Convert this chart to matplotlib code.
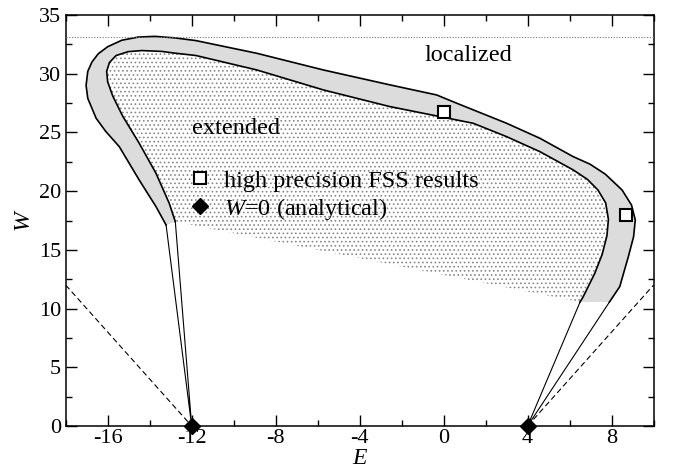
import matplotlib
matplotlib.use('Agg')
import matplotlib.pyplot as plt
from matplotlib.ticker import MultipleLocator
from matplotlib.lines import Line2D

plt.rcParams['font.family'] = ['Liberation Serif', 'DejaVu Serif']
plt.rcParams['mathtext.fontset'] = 'custom'
plt.rcParams['mathtext.rm'] = 'Liberation Serif'
plt.rcParams['mathtext.it'] = 'Liberation Serif:italic'
plt.rcParams['axes.unicode_minus'] = False
plt.rcParams['hatch.color'] = '#888888'
plt.rcParams['hatch.linewidth'] = 0.7

# outer edge of the critical band (left foot -> top -> right foot)
outer_E = [-13.22, -13.70, -14.50, -15.45, -16.10, -16.55, -16.95, -17.03, -16.95, -16.75, -16.45,
           -16.0, -15.33, -14.54, -13.75, -12.80, -11.80, -8.90, -5.73, -2.56, -0.33,
           0.62, 3.0, 4.59, 6.17, 6.97, 7.7, 8.5, 8.95, 9.13, 9.05, 8.80, 8.39, 7.9]
outer_W = [17.12, 18.68, 20.95, 23.79, 25.1, 26.2, 27.9, 29.0, 30.2, 31.0, 31.7,
           32.3, 32.85, 33.12, 33.18, 33.05, 32.82, 31.74, 30.32, 29.05, 28.19,
           27.49, 25.78, 24.50, 22.94, 22.3, 21.45, 20.1, 18.82, 17.55, 16.12, 14.42, 11.87, 10.56]

# inner edge of the band
inner_E = [-12.78, -13.07, -13.70, -14.50, -15.29, -15.76, -16.0, -16.05, -15.92, -15.6,
           -15.02, -14.38, -13.43, -12.80, -11.80, -8.90, -5.73, -2.56, -0.18, 1.41,
           3.0, 4.59, 6.17, 6.85, 7.35, 7.72, 7.85, 7.78, 7.55, 7.2, 6.65, 6.5]
inner_W = [17.40, 18.97, 21.52, 24.08, 26.4, 28.1, 29.3, 30.2, 30.95, 31.55,
           31.88, 31.97, 31.9, 31.75, 31.55, 30.32, 28.62, 27.2, 26.35, 25.78,
           24.64, 23.36, 21.81, 21.0, 20.1, 19.0, 17.6, 16.2, 14.6, 13.0, 11.01, 10.56]

# thin lines down to the W=0 band edges
left_E = [-13.22, -12.0, -12.78]
left_W = [17.12, 0.0, 17.40]
right_E = [6.5, 4.0, 7.9]
right_W = [10.56, 0.0, 10.56]

# dashed lines
dashL_E = [-18.0, -12.0]
dashL_W = [12.0, 0.0]
dashR_E = [4.0, 10.0]
dashR_W = [0.0, 12.0]

W_top = 33.15

fss_E = [0.0, 8.68]
fss_W = [26.75, 18.0]
ana_E = [-12.0, 4.0]
ana_W = [0.0, 0.0]

fig = plt.figure(figsize=(6.79, 4.70), dpi=100)
ax = fig.add_axes([0.0968, 0.0936, 0.8657, 0.8745])

# dotted "extended" region
ax.fill(inner_E, inner_W, facecolor='none', edgecolor='#888888', linewidth=0, hatch='....', zorder=1)
# grey band
ax.fill(outer_E + inner_E[::-1], outer_W + inner_W[::-1], facecolor='#dcdcdc', edgecolor='none', zorder=2)
ax.plot(outer_E, outer_W, color='k', lw=1.2, zorder=3)
ax.plot(inner_E, inner_W, color='k', lw=1.2, zorder=3)
ax.plot(left_E, left_W, color='k', lw=0.8, zorder=3)
ax.plot(right_E, right_W, color='k', lw=0.8, zorder=3)
ax.plot(dashL_E, dashL_W, color='k', lw=0.8, ls=(0, (5, 3)), zorder=3)
ax.plot(dashR_E, dashR_W, color='k', lw=0.8, ls=(0, (5, 3)), zorder=3)
ax.axhline(W_top, color='#777777', lw=0.8, ls=(0, (1, 1.5)), zorder=3)

ax.plot(fss_E, fss_W, ls='none', marker='s', ms=9, mfc='white', mec='k', mew=1.5, zorder=5)
ax.plot(ana_E, ana_W, ls='none', marker='D', ms=8, mfc='k', mec='k', zorder=6, clip_on=False)

ax.text(-12.0, 24.85, 'extended', fontsize=17.5, ha='left', va='baseline')
ax.text(-0.9, 31.1, 'localized', fontsize=17.5, ha='left', va='baseline')

handles = [Line2D([], [], ls='none', marker='s', ms=9, mfc='white', mec='k', mew=1.5),
           Line2D([], [], ls='none', marker='D', ms=8, mfc='k', mec='k')]
ax.legend(handles, ['high precision FSS results', '$W$=0 (analytical)'],
          loc='upper left', bbox_to_anchor=(0.208, 0.623), frameon=False, fontsize=17.5,
          handlelength=1.0, handletextpad=0.5, labelspacing=0.15, borderpad=0, borderaxespad=0)

ax.set_xlim(-18, 10)
ax.set_ylim(0, 35)
ax.xaxis.set_major_locator(MultipleLocator(4))
ax.xaxis.set_minor_locator(MultipleLocator(2))
ax.yaxis.set_major_locator(MultipleLocator(5))
ax.yaxis.set_minor_locator(MultipleLocator(2.5))
ax.tick_params(which='both', direction='in', top=True, right=True, labelsize=16, width=1.0)
ax.tick_params(which='major', length=8)
ax.tick_params(which='minor', length=4.5)
ax.tick_params(axis='x', pad=2)
for s in ax.spines.values():
    s.set_linewidth(1.1)

ax.set_xlabel('E', fontsize=17, style='italic', labelpad=0)
ax.set_ylabel('W', fontsize=17, style='italic', labelpad=4)

fig.savefig('out.png', dpi=100)
